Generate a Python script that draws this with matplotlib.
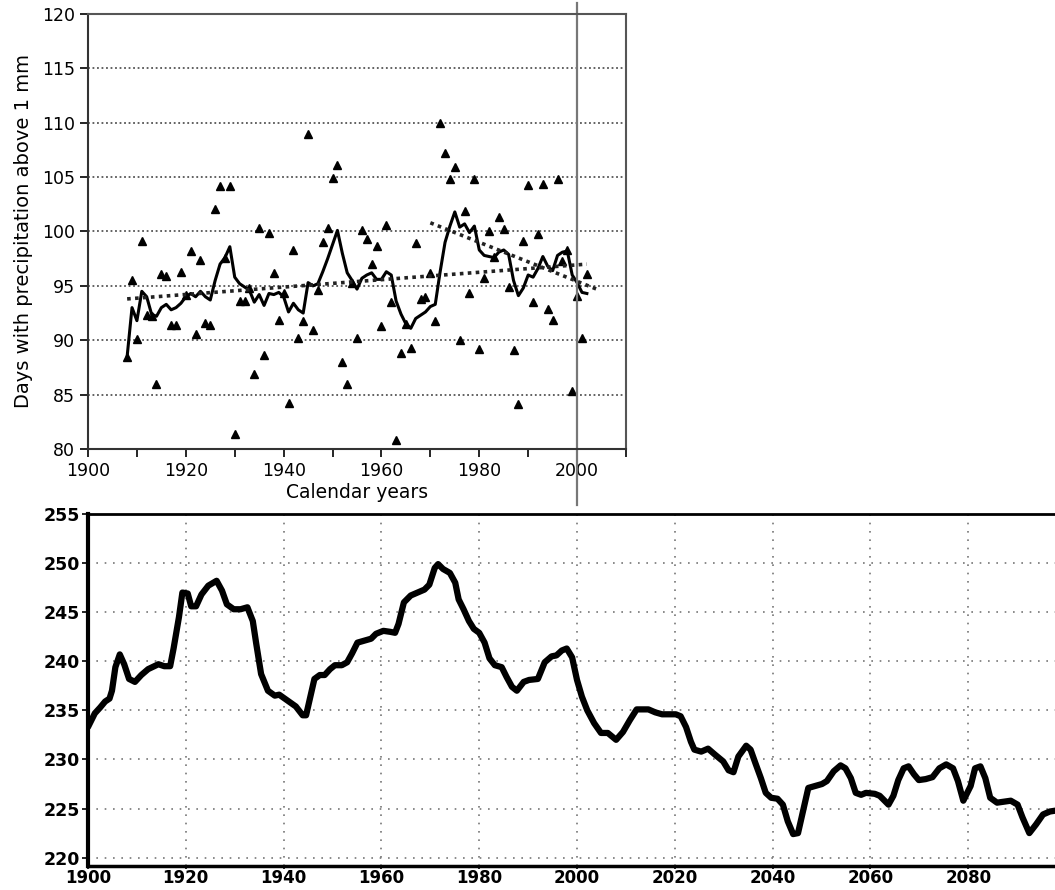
import numpy as np
import matplotlib
matplotlib.use('Agg')
import matplotlib.pyplot as plt

plt.rcParams['font.family'] = ['DejaVu Sans']

# --- datos del grafico superior (observaciones) ---
obs_years = list(range(1908, 2003))
obs_values = [88.5, 95.5, 90.1, 99.1, 92.3, 92.2, 86.0, 96.1, 95.9, 91.4,
              91.4, 96.3, 94.2, 98.2, 90.6, 97.4, 91.6, 91.4, 102.1, 104.2,
              97.6, 104.2, 81.4, 93.6, 93.6, 94.8, 86.9, 100.3, 88.6, 99.9,
              96.2, 91.9, 94.3, 84.2, 98.3, 90.2, 91.8, 109.0, 90.9, 94.6,
              99.0, 100.3, 104.9, 106.1, 88.0, 86.0, 95.3, 90.2, 100.1, 99.3,
              97.0, 98.7, 91.3, 100.6, 93.5, 80.8, 88.8, 91.5, 89.3, 98.9,
              93.8, 94.0, 96.2, 91.8, 110.0, 107.2, 104.8, 105.9, 90.0, 101.9,
              94.3, 104.8, 89.2, 95.7, 100.0, 97.7, 101.3, 100.2, 94.9, 89.1,
              84.1, 99.1, 104.3, 93.5, 99.8, 104.4, 92.9, 91.9, 104.8, 97.3,
              98.3, 85.3, 94.1, 90.2, 96.1]

# media movil
mean_values = [88.5, 93.0, 91.8, 94.5, 94.0, 92.4, 92.2, 93.0, 93.3, 92.8,
               93.0, 93.4, 94.0, 94.3, 94.0, 94.5, 94.0, 93.7, 95.5, 97.0,
               97.6, 98.6, 95.8, 95.2, 94.9, 94.6, 93.5, 94.2, 93.2, 94.3,
               94.2, 94.4, 94.0, 92.6, 93.4, 92.8, 92.5, 95.3, 95.0, 95.2,
               96.3, 97.5, 98.8, 100.1, 98.0, 96.2, 95.5, 94.7, 95.7, 96.0,
               96.2, 95.6, 95.6, 96.3, 96.0, 93.6, 92.4, 91.5, 91.1, 92.0,
               92.3, 92.6, 93.1, 93.3, 96.3, 99.0, 100.5, 101.8, 100.4, 100.7,
               99.9, 100.5, 98.3, 97.8, 97.7, 97.6, 98.1, 98.3, 97.9, 95.5,
               94.1, 94.8, 96.0, 95.8, 96.6, 97.7, 96.8, 96.4, 97.8, 98.1,
               98.2, 96.0, 95.3, 94.4, 94.3]

# tendencias
trend_long_years = [1908, 2002]
trend_long_values = [93.8, 97.0]
trend_short_years = [1970, 2004]
trend_short_values = [100.8, 94.7]

# --- datos del grafico inferior (serie larga) ---
long_years = [1900, 1901.4, 1902.5, 1903.5, 1904.4, 1904.9, 1905.6, 1906.5, 1907.4, 1908.4,
              1909.6, 1910.9, 1912.3, 1914.4, 1915.6, 1916.8, 1917.5, 1918.6, 1919.3, 1920.4,
              1921.1, 1922.1, 1923.2, 1924.6, 1926.3, 1927.4, 1928.4, 1929.8, 1931.2, 1932.6,
              1933.7, 1934.4, 1935.4, 1936.8, 1938.2, 1939.1, 1941.1, 1942.5, 1943.9, 1944.6,
              1945.6, 1946.3, 1947.4, 1948.4, 1949.5, 1950.5, 1951.9, 1953.0, 1954.0, 1955.1,
              1956.5, 1957.9, 1958.9, 1960.4, 1961.8, 1962.8, 1963.5, 1964.6, 1966.0, 1967.4,
              1968.8, 1969.8, 1970.9, 1971.6, 1972.6, 1974.0, 1975.1, 1975.8, 1976.8, 1977.9,
              1978.9, 1980.0, 1981.1, 1982.1, 1983.2, 1984.6, 1985.6, 1986.7, 1987.7, 1989.1,
              1990.2, 1992.0, 1993.4, 1994.8, 1995.8, 1996.9, 1997.9, 1999.0, 2000.0, 2001.0,
              2002.1, 2003.5, 2004.9, 2006.3, 2008.0, 2009.4, 2010.8, 2012.2, 2014.6, 2016.0,
              2017.4, 2020.2, 2021.2, 2022.3, 2023.3, 2024.0, 2025.4, 2026.8, 2028.2, 2029.9,
              2031.0, 2032.0, 2033.0, 2034.6, 2035.5, 2036.5, 2037.6, 2038.6, 2039.7, 2041.0,
              2042.1, 2043.1, 2044.2, 2045.2, 2046.3, 2047.3, 2048.7, 2050.1, 2051.1, 2052.5,
              2053.9, 2054.9, 2056.0, 2057.0, 2058.1, 2059.1, 2060.9, 2061.9, 2063.7, 2064.7,
              2065.7, 2066.8, 2067.8, 2068.9, 2069.9, 2071.3, 2072.7, 2074.1, 2075.5, 2076.9,
              2077.9, 2079.0, 2080.5, 2081.4, 2082.5, 2083.5, 2084.5, 2085.9, 2087.3, 2088.7,
              2090.1, 2091.1, 2092.5, 2093.9, 2095.3, 2096.7, 2098.0]
long_values = [233.3, 234.7, 235.3, 235.9, 236.2, 237.0, 239.4, 240.7, 239.7, 238.2,
               237.9, 238.6, 239.2, 239.7, 239.5, 239.5, 241.3, 244.5, 247.0, 246.9,
               245.6, 245.6, 246.8, 247.7, 248.2, 247.2, 245.8, 245.3, 245.3, 245.5,
               244.1, 241.8, 238.7, 237.0, 236.5, 236.6, 235.9, 235.4, 234.5, 234.5,
               236.7, 238.2, 238.6, 238.6, 239.2, 239.6, 239.6, 239.9, 240.8, 241.9,
               242.1, 242.3, 242.8, 243.1, 243.0, 242.9, 243.8, 246.0, 246.7, 247.0,
               247.3, 247.8, 249.5, 249.9, 249.4, 249.0, 248.0, 246.3, 245.3, 244.1,
               243.3, 242.9, 241.9, 240.3, 239.6, 239.4, 238.4, 237.4, 237.0, 237.9,
               238.1, 238.2, 239.9, 240.5, 240.6, 241.1, 241.3, 240.4, 238.1, 236.4,
               235.0, 233.7, 232.7, 232.7, 232.0, 232.8, 234.0, 235.1, 235.1, 234.8,
               234.6, 234.6, 234.4, 233.3, 231.8, 231.0, 230.8, 231.1, 230.5, 229.8,
               228.9, 228.7, 230.3, 231.4, 231.0, 229.6, 228.1, 226.6, 226.1, 226.0,
               225.4, 223.7, 222.4, 222.5, 224.9, 227.1, 227.3, 227.5, 227.8, 228.8,
               229.4, 229.1, 228.1, 226.6, 226.4, 226.6, 226.5, 226.3, 225.4, 226.3,
               227.9, 229.1, 229.3, 228.5, 227.9, 228.0, 228.2, 229.1, 229.5, 229.1,
               227.8, 225.8, 227.3, 229.1, 229.3, 228.1, 226.1, 225.6, 225.7, 225.8,
               225.4, 224.1, 222.5, 223.4, 224.4, 224.7, 224.8]

fig = plt.figure(figsize=(10.55, 8.9), dpi=100)

# ---------------- grafico superior ----------------
ax1 = fig.add_axes([88 / 1055, 1 - 449 / 890, (626 - 88) / 1055, (449 - 14) / 890])
ax1.plot(obs_years, obs_values, linestyle='none', marker='^', color='black', markersize=6)
ax1.plot(obs_years, mean_values, color='black', linewidth=2.2)
ax1.plot(trend_long_years, trend_long_values, color='#222222', linestyle=(0, (1, 1.2)), linewidth=2.6)
ax1.plot(trend_short_years, trend_short_values, color='#222222', linestyle=(0, (1, 1.2)), linewidth=2.6)

ax1.set_xlim(1900, 2010)
ax1.set_ylim(80, 120)
ax1.set_xticks(range(1900, 2001, 20))
ax1.set_xticks(range(1900, 2011, 10), minor=True)
ax1.set_yticks(range(80, 121, 5))
for y in range(85, 120, 5):
    ax1.axhline(y, color='#555555', linestyle=(0, (1, 1.5)), linewidth=1.3, zorder=0)
ax1.axvline(2000, ymin=-0.129, ymax=1.025, color='#777777', linewidth=1.6, clip_on=False)
ax1.tick_params(axis='both', which='both', direction='out', length=6, width=1.2, labelsize=12.5)
for side in ['top', 'right']:
    ax1.spines[side].set_color('#555555')
    ax1.spines[side].set_linewidth(1.5)
for side in ['left', 'bottom']:
    ax1.spines[side].set_color('#333333')
    ax1.spines[side].set_linewidth(1.5)
ax1.set_xlabel('Calendar years', fontsize=13.5, labelpad=2)
ax1.set_ylabel('Days with precipitation above 1 mm', fontsize=14, labelpad=6)

# ---------------- grafico inferior ----------------
ax2 = fig.add_axes([88 / 1055, 1 - 866 / 890, 1 - 88 / 1055 + 0.01, (866 - 514) / 890])
ax2.plot(long_years, long_values, color='black', linewidth=4.5, solid_joinstyle='round',
         solid_capstyle='round')
ax2.set_xlim(1900, 2097.75 + 0.01 * 1055 / 4.89)
ax2.set_ylim(219.15, 255)
ax2.set_xticks(range(1900, 2081, 20))
ax2.set_yticks(range(220, 256, 5))
ax2.grid(True, color='#777777', linestyle=(0, (1, 4)), linewidth=1.2)
ax2.tick_params(axis='x', direction='out', length=2, width=1.2, labelsize=12, pad=0.5)
ax2.tick_params(axis='y', direction='out', length=4, width=1.2, labelsize=12.5, pad=2)
for lab in ax2.get_xticklabels() + ax2.get_yticklabels():
    lab.set_fontweight('bold')
ax2.spines['right'].set_visible(False)
ax2.spines['left'].set_linewidth(3)
ax2.spines['top'].set_linewidth(2)
ax2.spines['bottom'].set_linewidth(2.5)

plt.savefig('out.png', dpi=100)
